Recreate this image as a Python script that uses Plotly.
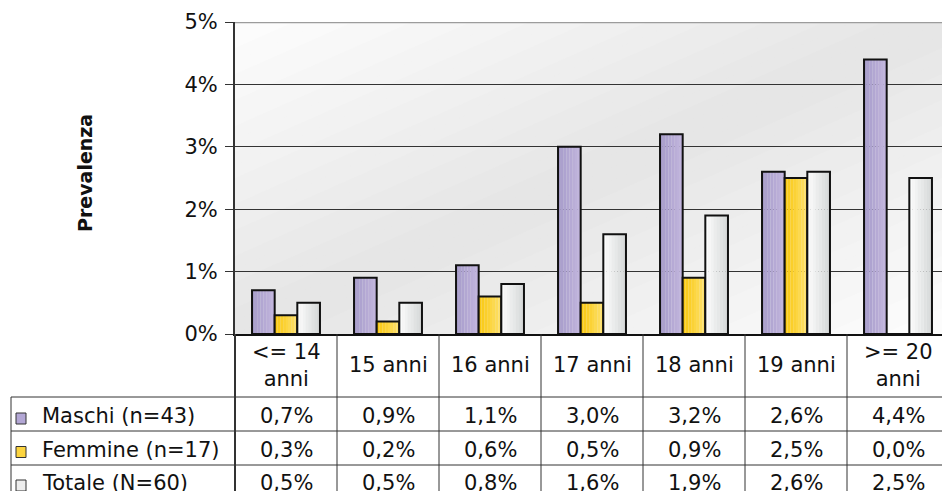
import plotly.graph_objects as go

# ---- data -------------------------------------------------------------
categories = ["<= 14 anni", "15 anni", "16 anni", "17 anni", "18 anni", "19 anni", ">= 20 anni"]
header_labels = ["<= 14<br>anni", "15 anni", "16 anni", "17 anni", "18 anni", "19 anni", ">= 20<br>anni"]
series_names = ["Maschi (n=43)", "Femmine (n=17)", "Totale (N=60)"]
maschi = [0.7, 0.9, 1.1, 3.0, 3.2, 2.6, 4.4]
femmine = [0.3, 0.2, 0.6, 0.5, 0.9, 2.5, 0.0]
totale = [0.5, 0.5, 0.8, 1.6, 1.9, 2.6, 2.5]
y_ticks = [0, 1, 2, 3, 4, 5]

series_values = [maschi, femmine, totale]
# (left edge colour, right edge colour, key colour) for the shaded bars
series_shades = [("#a59bc9", "#c3b6de", "#b3a7d5"),
                 ("#f9c70c", "#fee16c", "#fcd43f"),
                 ("#fefefe", "#d3d6d6", "#ededed")]

FONT = "DejaVu Sans"
W, H = 942, 491
L, T, R = 235, 22, 0
PLOT_BOTTOM = 334
B = H - PLOT_BOTTOM
PW = W - L - R
PH = PLOT_BOTTOM - T
CAT_PX = 102.0


def px_x(p):
    return (p - L) / PW


def px_y(p):
    return (PLOT_BOTTOM - p) / PH


def fmt(v):
    return f"{v:.1f}".replace(".", ",") + "%"


def hex_rgb(h):
    h = h.lstrip("#")
    return [int(h[i:i + 2], 16) for i in (0, 2, 4)]


def mix(c0, c1, t):
    a, b = hex_rgb(c0), hex_rgb(c1)
    return "rgb({},{},{})".format(*[round(x + (y - x) * t) for x, y in zip(a, b)])


BAR_W = 0.222
offsets = [-1.5 * BAR_W, -0.5 * BAR_W, 0.5 * BAR_W]
STRIPS = 8

fig = go.Figure()
for name, vals, (c_left, c_right, _), off in zip(series_names, series_values, series_shades, offsets):
    sw = BAR_W / STRIPS
    for k in range(STRIPS):
        fig.add_trace(go.Bar(
            x=categories, y=vals, name=name, offset=off + k * sw, width=sw * 1.02,
            marker=dict(color=mix(c_left, c_right, (k + 0.5) / STRIPS), line=dict(width=0)),
            hoverinfo="skip", showlegend=False,
        ))
    # outline of each bar
    fig.add_trace(go.Bar(
        x=categories, y=vals, name=name, offset=off, width=BAR_W,
        marker=dict(color="rgba(0,0,0,0)", line=dict(color="#111111", width=2)),
        hoverinfo="x+y+name", showlegend=False,
    ))

shapes = []

# diagonal shaded plot background (light corners, grey band across)
steps = 48


def shade(u):
    t = abs(u - 1.0)
    g = round(0xe5 + (0xfd - 0xe5) * min(t, 1.0))
    return f"rgb({g},{g},{g})"


for k in range(steps, 0, -1):
    u = 2.0 * k / steps
    if u <= 1:
        pts = [(0, 0), (u, 0), (0, u)]
    else:
        pts = [(0, 0), (1, 0), (1, u - 1), (u - 1, 1), (0, 1)]
    path = "M " + " L ".join(f"{x:.4f},{1 - s:.4f}" for x, s in pts) + " Z"
    shapes.append(dict(type="path", xref="paper", yref="paper", path=path,
                       fillcolor=shade(u - 1.0 / steps), line=dict(width=0),
                       layer="below"))

# top border of the plot area
shapes.append(dict(type="line", xref="paper", yref="y", x0=0, x1=1, y0=5, y1=5,
                   line=dict(color="#9c9c9c", width=2.5), layer="above"))

# data table grid
line_style = dict(color="#333333", width=1)
for py in (397, 431, 465):
    shapes.append(dict(type="line", xref="paper", yref="paper",
                       x0=px_x(11), x1=1, y0=px_y(py), y1=px_y(py), line=line_style))
shapes.append(dict(type="line", xref="paper", yref="paper",
                   x0=px_x(11), x1=px_x(11), y0=px_y(397), y1=px_y(500), line=line_style))
shapes.append(dict(type="line", xref="paper", yref="paper",
                   x0=0, x1=0, y0=0, y1=px_y(500), line=dict(color="#333333", width=2)))
for i in range(len(categories) - 1):
    shapes.append(dict(type="line", xref="x", yref="paper",
                       x0=i + 0.5, x1=i + 0.5, y0=0, y1=px_y(500), line=line_style))

annotations = []
# column headers
for i, lab in enumerate(header_labels):
    annotations.append(dict(xref="x", yref="paper", x=categories[i], y=px_y(365),
                            text=lab, showarrow=False, xanchor="center", yanchor="middle",
                            font=dict(family=FONT, size=21, color="#111111")))

row_centres = [416, 449.5, 483]
for name, vals, shades_, yc in zip(series_names, series_values, series_shades, row_centres):
    # legend key + row label
    shapes.append(dict(type="rect", xref="paper", yref="paper",
                       x0=px_x(16), x1=px_x(26), y0=px_y(yc - 3), y1=px_y(yc + 8),
                       fillcolor=shades_[2], line=dict(color="#333333", width=1)))
    annotations.append(dict(xref="paper", yref="paper", x=px_x(40), y=px_y(yc),
                            text=name, showarrow=False, xanchor="left", yanchor="middle",
                            font=dict(family=FONT, size=21, color="#111111")))
    for i, v in enumerate(vals):
        annotations.append(dict(xref="x", yref="paper", x=categories[i], y=px_y(yc),
                                text=fmt(v), showarrow=False, xanchor="center",
                                yanchor="middle",
                                font=dict(family=FONT, size=21, color="#111111")))

# vertical axis title
annotations.append(dict(xref="paper", yref="paper", x=px_x(85), y=px_y(173),
                        text="<b>Prevalenza</b>", textangle=-90, showarrow=False,
                        xanchor="center", yanchor="middle",
                        font=dict(family=FONT, size=19, color="#111111")))

fig.update_layout(
    width=W, height=H,
    margin=dict(l=L, r=R, t=T, b=B, pad=0),
    paper_bgcolor="white", plot_bgcolor="white",
    barmode="overlay",
    showlegend=False,
    shapes=shapes, annotations=annotations,
    xaxis=dict(type="category", range=[-0.5, -0.5 + PW / CAT_PX],
               showticklabels=False, ticks="", showgrid=False, zeroline=False,
               showline=True, linecolor="#111111", linewidth=1.5, fixedrange=True),
    yaxis=dict(range=[0, 5], tickvals=y_ticks, ticktext=[f"{v}%" for v in y_ticks],
               ticks="outside", ticklen=8, tickcolor="#333333", tickwidth=1,
               ticklabelstandoff=3,
               showgrid=True, gridcolor="#333333", gridwidth=1, zeroline=False,
               showline=True, linecolor="#333333", linewidth=2,
               tickfont=dict(family=FONT, size=21, color="#111111"), fixedrange=True),
    font=dict(family=FONT),
)

fig.write_html("out.html")
